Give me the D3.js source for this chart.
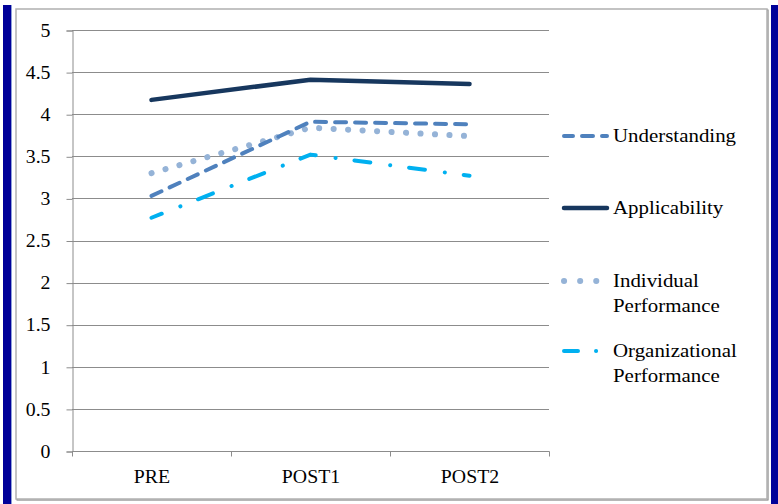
<!DOCTYPE html>
<html>
<head>
<meta charset="utf-8">
<script src="https://cdn.jsdelivr.net/npm/d3@7"></script>
</head>
<body style="margin:0; background:#fff">
<div id="chart"></div>
<script>
// data
let categories = ["PRE", "POST1", "POST2"];
let understanding = [3.03, 3.91, 3.88];
let applicability = [4.17, 4.41, 4.36];
let individualPerf = [3.30, 3.84, 3.74];
let organizationalPerf = [2.77, 3.52, 3.27];
let yTicks = [0, 0.5, 1, 1.5, 2, 2.5, 3, 3.5, 4, 4.5, 5];

let fontFam = "'Liberation Serif'";

let series = [
  { name: ["Understanding"], values: understanding, color: "#4F81BD", width: 4, dash: "11,9", offset: 0, ly: 136, legDash: "11,9", legOff: 2 },
  { name: ["Applicability"], values: applicability, color: "#17375E", width: 4.5, dash: null, offset: 0, ly: 208, legDash: null, legOff: 0 },
  { name: ["Individual", "Performance"], values: individualPerf, color: "#95B3D7", width: 6, dash: "0.1,14.4", offset: 0, ly: 281, legDash: "0.1,16", legOff: 0 },
  { name: ["Organizational", "Performance"], values: organizationalPerf, color: "#00B0F0", width: 4, dash: "16,20,0.1,19", offset: 5, ly: 351, legDash: "14,18,0.1,40", legOff: 0 }
];

let W = 778, H = 504;
let svg = d3.select("#chart").append("svg")
  .attr("width", W)
  .attr("height", H)
  .style("display", "block");

// side bars
svg.append("rect").attr("x", 3).attr("y", 5).attr("width", 8).attr("height", H - 5).attr("fill", "#000099");
svg.append("rect").attr("x", 11).attr("y", 5).attr("width", 1).attr("height", H - 5).attr("fill", "#8da0d8");
svg.append("rect").attr("x", 771).attr("y", 5).attr("width", 7).attr("height", H - 5).attr("fill", "#000099");

// chart box
svg.append("rect").attr("x", 17).attr("y", 10).attr("width", 751).attr("height", 490)
  .attr("fill", "none").attr("stroke", "#707070").attr("stroke-width", 1);
svg.append("rect").attr("x", 16).attr("y", 9).attr("width", 751).attr("height", 490)
  .attr("fill", "#fff").attr("stroke", "#b0b0b0").attr("stroke-width", 1.5);

// scales
let x = d3.scaleBand().domain(categories).range([72, 549]);
let y = d3.scaleLinear().domain([0, 5]).range([451, 30]);

// grid lines
svg.append("g").selectAll("line").data(yTicks).join("line")
  .attr("x1", 72).attr("x2", 549)
  .attr("y1", d => Math.round(y(d)) + 0.5).attr("y2", d => Math.round(y(d)) + 0.5)
  .attr("stroke", "#8c8c8c").attr("stroke-width", 1);

// y axis
let yAxis = svg.append("g")
  .attr("transform", "translate(72.5,0.5)")
  .call(d3.axisLeft(y).tickValues(yTicks).tickSize(6).tickPadding(14).tickFormat(d => d));
yAxis.select(".domain").attr("stroke", "#8c8c8c");
yAxis.selectAll(".tick line").attr("stroke", "#8c8c8c");
yAxis.selectAll(".tick text")
  .style("font-family", fontFam)
  .style("font-size", "18px")
  .attr("fill", "#000")
  .attr("transform", "scale(1.1,1)");

// x axis
let xAxis = svg.append("g").attr("transform", "translate(0.5,451.5)");
xAxis.append("line").attr("x1", 72).attr("x2", 549).attr("stroke", "#8c8c8c");
let edges = categories.map(c => x(c)).concat([x.range()[1]]);
xAxis.selectAll(".tk").data(edges).join("line").attr("class", "tk")
  .attr("x1", d => d).attr("x2", d => d).attr("y1", 0).attr("y2", 5).attr("stroke", "#8c8c8c");
xAxis.selectAll(".lbl").data(categories).join("text").attr("class", "lbl")
  .attr("transform", d => "translate(" + (x(d) + x.bandwidth() / 2) + ",31) scale(1.1,1)")
  .attr("text-anchor", "middle")
  .style("font-family", fontFam)
  .style("font-size", "18px")
  .text(d => d);

// lines
let line = d3.line()
  .x((d, i) => x(categories[i]) + x.bandwidth() / 2)
  .y(d => y(d));

// draw in back-to-front order
let drawOrder = [3, 2, 0, 1];
drawOrder.forEach(k => {
  let s = series[k];
  svg.append("path")
    .datum(s.values)
    .attr("d", line)
    .attr("fill", "none")
    .attr("stroke", s.color)
    .attr("stroke-width", s.width)
    .attr("stroke-linecap", "round")
    .attr("stroke-linejoin", "round")
    .attr("stroke-dasharray", s.dash)
    .attr("stroke-dashoffset", s.offset);
});

// legend
let legend = svg.append("g");
series.forEach(s => {
  legend.append("line")
    .attr("x1", 564).attr("x2", 607)
    .attr("y1", s.ly).attr("y2", s.ly)
    .attr("stroke", s.color)
    .attr("stroke-width", s.width)
    .attr("stroke-linecap", "round")
    .attr("stroke-dasharray", s.legDash)
    .attr("stroke-dashoffset", s.legOff);
  s.name.forEach((t, j) => {
    legend.append("text")
      .attr("transform", "translate(613," + (s.ly + 6 + j * 24.5) + ") scale(1.1,1)")
      .style("font-family", fontFam)
      .style("font-size", "19px")
      .attr("fill", "#000")
      .text(t);
  });
});
</script>
</body>
</html>
